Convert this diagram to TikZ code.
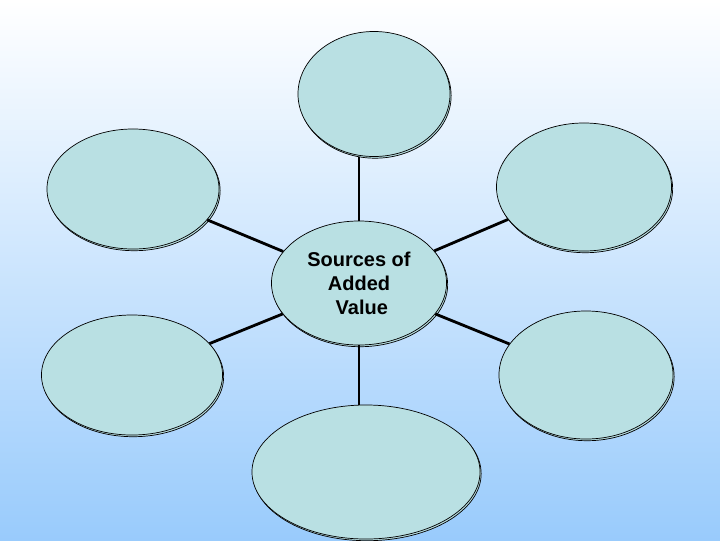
\documentclass[tikz,border=0pt]{standalone}
\usepackage{fontspec}
\setmainfont{Liberation Sans}
\usetikzlibrary{shapes.geometric,shadows}
\definecolor{bubble}{RGB}{185,224,227}
\definecolor{skyblue}{RGB}{153,203,252}
\begin{document}
\begin{tikzpicture}[x=0.025cm,y=-0.025cm,
        bubble/.style={ellipse,draw=black,fill=bubble,inner sep=0pt,line width=0.5pt,
          copy shadow={shadow xshift=0.8pt,shadow yshift=-1.2pt}},
        spoke/.style={line width=2pt,black}]
        \useasboundingbox (0,0) rectangle (720,540);
        \fill[top color=white,bottom color=skyblue] (0,0) rectangle (720,540);
        % outer bubbles
        \node[bubble,minimum width=3.8cm,minimum height=3.125cm] (top) at (374,94) {};
        \node[bubble,minimum width=4.3cm,minimum height=3.0cm] (upleft) at (133,189) {};
        \node[bubble,minimum width=4.375cm,minimum height=3.2cm] (upright) at (584,187) {};
        \node[bubble,minimum width=4.525cm,minimum height=3.0cm] (lowleft) at (132,375) {};
        \node[bubble,minimum width=4.35cm,minimum height=3.2cm] (lowright) at (586,375) {};
        \node[bubble,minimum width=5.7cm,minimum height=3.35cm] (bottom) at (366,472) {};
        % centre
        \node[bubble,minimum width=4.375cm,minimum height=3.1cm,align=center,
          font=\fontsize{14.2}{17}\selectfont\bfseries] (hub) at (359,283) {Sources of\\Added\\\ Value};
        \draw[spoke] (hub.north) -- (hub.north |- top.south);
        \draw[spoke] (hub.south) -- (hub.south |- bottom.north);
        \draw[spoke] (hub) -- (upleft);
        \draw[spoke] (hub) -- (upright);
        \draw[spoke] (hub) -- (lowleft);
        \draw[spoke] (hub) -- (lowright);
\end{tikzpicture}
\end{document}
